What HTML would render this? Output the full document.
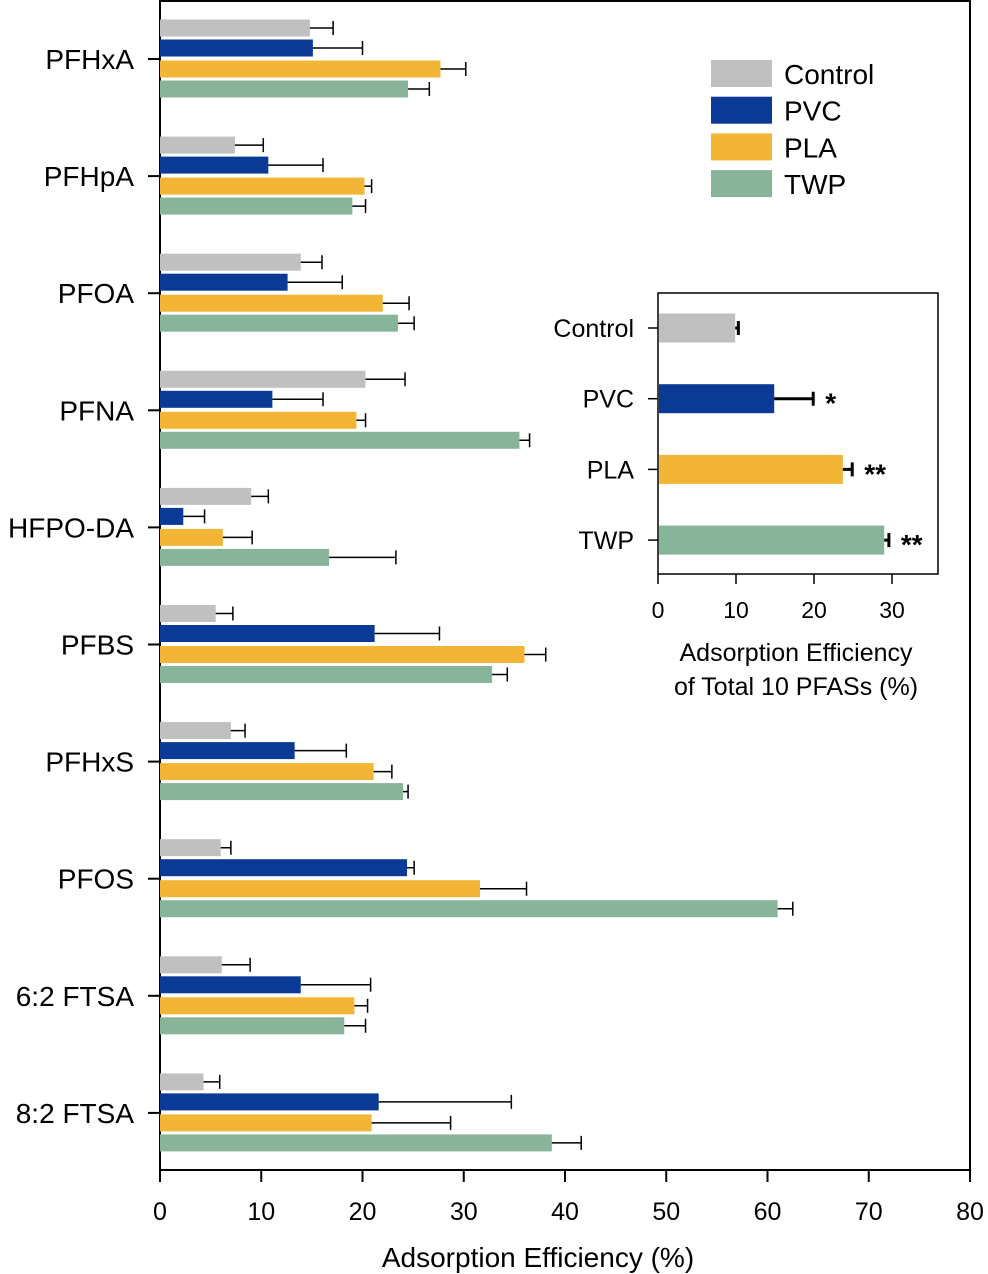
<!DOCTYPE html>
<html><head><meta charset="utf-8"><style>
html,body{margin:0;padding:0;background:#fff;}
svg{display:block;font-family:"Liberation Sans",Arial,sans-serif;}
</style></head><body>
<svg id="c" width="988" height="1274" viewBox="0 0 988 1274"></svg>
<script>
const categories=["PFHxA","PFHpA","PFOA","PFNA","HFPO-DA","PFBS","PFHxS","PFOS","6:2 FTSA","8:2 FTSA"];
const seriesNames=["Control","PVC","PLA","TWP"];
const controlVals=[14.8,7.4,13.9,20.3,9.0,5.5,7.0,6.0,6.1,4.3];
const controlErr=[2.3,2.8,2.1,3.9,1.7,1.7,1.4,1.0,2.8,1.6];
const pvcVals=[15.1,10.7,12.6,11.1,2.3,21.2,13.3,24.4,13.9,21.6];
const pvcErr=[4.9,5.4,5.4,5.0,2.1,6.4,5.1,0.7,6.9,13.1];
const plaVals=[27.7,20.2,22.0,19.4,6.2,36.0,21.1,31.6,19.2,20.9];
const plaErr=[2.5,0.7,2.6,0.9,2.9,2.1,1.8,4.6,1.3,7.8];
const twpVals=[24.5,19.0,23.5,35.5,16.7,32.8,24.0,61.0,18.2,38.7];
const twpErr=[2.1,1.3,1.6,1.0,6.6,1.5,0.5,1.5,2.1,2.9];
const xTicks=[0,10,20,30,40,50,60,70,80];
const insetVals=[9.9,14.9,23.7,29.0];
const insetErr=[0.4,5.0,1.2,0.6];
const insetSig=["","*","**","**"];
const insetTicks=[0,10,20,30];
const colors=["#c0c0c0","#0a3a96","#f2b535","#88b59a"];

const svg=document.getElementById('c');
const NS="http://www.w3.org/2000/svg";
function mk(tag,attrs,parent){const e=document.createElementNS(NS,tag);for(const k in attrs)e.setAttribute(k,attrs[k]);(parent||svg).appendChild(e);return e;}
const xS=v=>160+v*10.125;
const yS=i=>59+i*117.1;
const offs=[-31,-11,10,30];
const vals=[controlVals,pvcVals,plaVals,twpVals];
const errs=[controlErr,pvcErr,plaErr,twpErr];

let e=mk('rect',{x:160,y:1,width:810,height:1169,fill:'none',stroke:'#000','stroke-width':2});



categories.forEach((c,i)=>{
  const y=yS(i);
  let t=mk('line',{x1:148,x2:160,y1:y,y2:y,stroke:'#000','stroke-width':2});
  
  
  let l=mk('text',{x:134,y:y+10,'text-anchor':'end','font-size':28,fill:'#000'});
  l.textContent=c;
  
  
  for(let s=0;s<4;s++){
    const cy=y+offs[s], v=vals[s][i], er=errs[s][i];
    let b=mk('rect',{x:160,y:cy-8.5,width:xS(v)-160,height:17,fill:colors[s]});
    
    
    const x2=xS(v+er);
    let g=mk('path',{d:`M${xS(v)} ${cy}H${x2}M${x2} ${cy-7}V${cy+7}`,stroke:'#000','stroke-width':1.5,fill:'none'});
    
    
  }
});
xTicks.forEach(v=>{
  let t=mk('line',{x1:xS(v),x2:xS(v),y1:1170,y2:1182,stroke:'#000','stroke-width':2});
  
  
  let l=mk('text',{x:xS(v),y:1220,'text-anchor':'middle','font-size':25});
  l.textContent=v;
  
  
});
e=mk('text',{x:538,y:1267,'text-anchor':'middle','font-size':28});
e.textContent="Adsorption Efficiency (%)";



seriesNames.forEach((n,s)=>{
  const y=60+s*36.7;
  let r=mk('rect',{x:711,y:y,width:61,height:27,fill:colors[s]});
  
  
  let t=mk('text',{x:784,y:y+24,'font-size':28});
  t.textContent=n;
  
  
});

const ix=v=>658+v*7.8;
const iy=i=>328+i*70.7;
e=mk('rect',{x:658,y:293,width:280,height:281,fill:'#fff',stroke:'#000','stroke-width':1.5});


seriesNames.forEach((n,i)=>{
  const y=iy(i);
  let t=mk('line',{x1:648,x2:658,y1:y,y2:y,stroke:'#000','stroke-width':1.5});
  
  
  let l=mk('text',{x:634,y:y+9,'text-anchor':'end','font-size':25});
  l.textContent=n;
  
  
  let b=mk('rect',{x:659,y:y-14.5,width:ix(insetVals[i])-659,height:29,fill:colors[i]});
  
  
  const x2=ix(insetVals[i]+insetErr[i]);
  let g=mk('path',{d:`M${ix(insetVals[i])} ${y}H${x2}M${x2} ${y-7}V${y+7}`,stroke:'#000','stroke-width':3,fill:'none'});
  
  
  if(insetSig[i]){
    let s=mk('text',{x:x2+12,y:y+14,'font-size':28,'font-weight':'bold'});
    s.textContent=insetSig[i];
    
    
  }
});
insetTicks.forEach(v=>{
  let t=mk('line',{x1:ix(v),x2:ix(v),y1:574,y2:584,stroke:'#000','stroke-width':1.5});
  
  
  let l=mk('text',{x:ix(v),y:618,'text-anchor':'middle','font-size':23});
  l.textContent=v;
  
  
});
e=mk('text',{x:796,y:661,'text-anchor':'middle','font-size':25});
e.textContent="Adsorption Efficiency";


e=mk('text',{x:796,y:695,'text-anchor':'middle','font-size':25});
e.textContent="of Total 10 PFASs (%)";


</script>
</body></html>
